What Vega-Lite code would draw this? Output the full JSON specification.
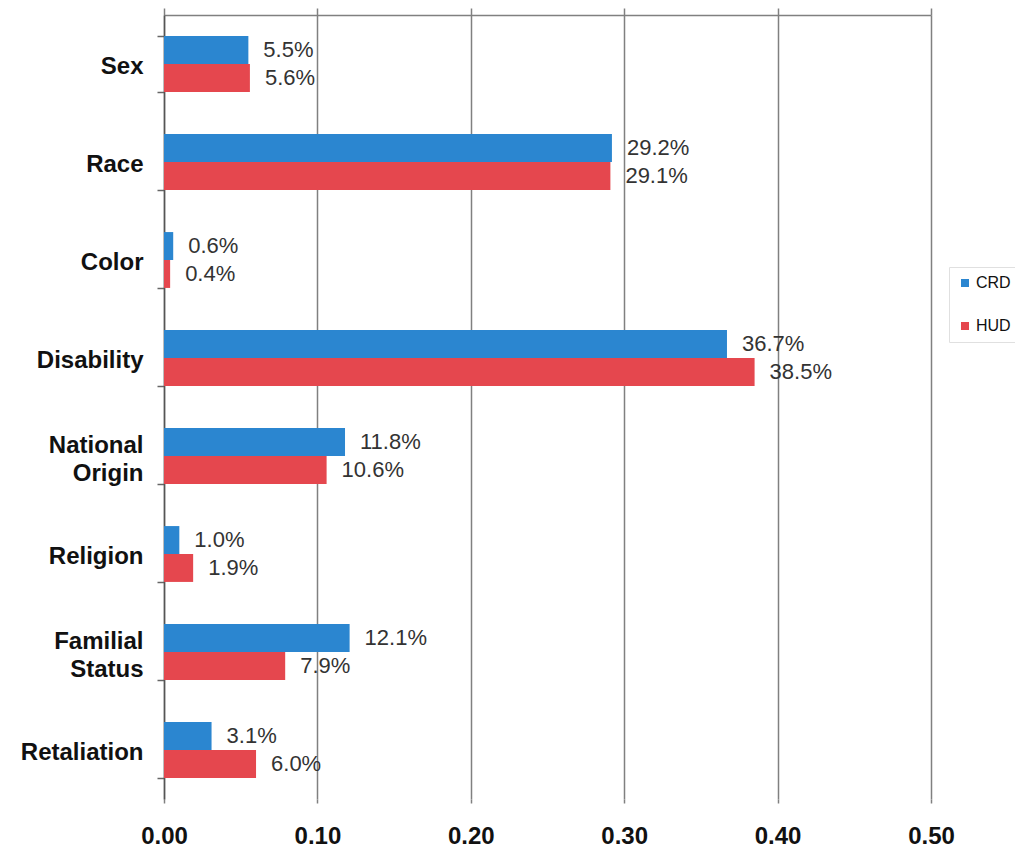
{
  "$schema": "https://vega.github.io/schema/vega-lite/v6.json",
  "autosize": {"type": "none"},
  "width": 767,
  "height": 784,
  "padding": {"left": 164, "top": 15, "right": 84, "bottom": 53},
  "background": "white",
  "data": {
    "values": [
      {"category": "Sex", "agency": "CRD", "share": 0.055},
      {"category": "Sex", "agency": "HUD", "share": 0.056},
      {"category": "Race", "agency": "CRD", "share": 0.292},
      {"category": "Race", "agency": "HUD", "share": 0.291},
      {"category": "Color", "agency": "CRD", "share": 0.006},
      {"category": "Color", "agency": "HUD", "share": 0.004},
      {"category": "Disability", "agency": "CRD", "share": 0.367},
      {"category": "Disability", "agency": "HUD", "share": 0.385},
      {"category": "National Origin", "agency": "CRD", "share": 0.118},
      {"category": "National Origin", "agency": "HUD", "share": 0.106},
      {"category": "Religion", "agency": "CRD", "share": 0.010},
      {"category": "Religion", "agency": "HUD", "share": 0.019},
      {"category": "Familial Status", "agency": "CRD", "share": 0.121},
      {"category": "Familial Status", "agency": "HUD", "share": 0.079},
      {"category": "Retaliation", "agency": "CRD", "share": 0.031},
      {"category": "Retaliation", "agency": "HUD", "share": 0.060}
    ]
  },
  "encoding": {
    "y": {
      "field": "category",
      "type": "nominal",
      "sort": ["Sex", "Race", "Color", "Disability", "National Origin", "Religion", "Familial Status", "Retaliation"],
      "scale": {"paddingInner": 0.43, "paddingOuter": 0.215},
      "axis": {
        "title": null,
        "tickBand": "extent",
        "tickSize": 7,
        "tickColor": "#666666",
        "tickWidth": 1.5,
        "domainColor": "#555555",
        "domainWidth": 1.5,
        "labelFont": "Liberation Sans",
        "labelFontWeight": "bold",
        "labelFontSize": 24,
        "labelColor": "#111111",
        "labelPadding": 14,
        "labelLineHeight": 28,
        "labelOffset": {"condition": {"test": "indexof(datum.label, ' ') > 0", "value": -11}, "value": 2},
        "labelExpr": "split(datum.label, ' ')"
      }
    },
    "yOffset": {"field": "agency", "type": "nominal", "sort": ["CRD", "HUD"]}
  },
  "layer": [
    {
      "mark": {"type": "bar", "opacity": 1},
      "encoding": {
        "x": {
          "field": "share",
          "type": "quantitative",
          "scale": {"domain": [0, 0.5], "nice": false},
          "axis": {
            "title": null,
            "orient": "bottom",
            "values": [0, 0.1, 0.2, 0.3, 0.4, 0.5],
            "format": ".2f",
            "domain": false,
            "grid": true,
            "gridColor": "#808080",
            "gridWidth": 1.5,
            "tickSize": 4,
            "tickColor": "#808080",
            "tickWidth": 1.5,
            "labelFlush": false,
            "labelFont": "Liberation Sans",
            "labelFontWeight": "bold",
            "labelFontSize": 24,
            "labelColor": "#111111",
            "labelPadding": 21
          }
        },
        "color": {
          "field": "agency",
          "type": "nominal",
          "scale": {"domain": ["CRD", "HUD"], "range": ["#2B86D0", "#E5474E"]},
          "legend": {
            "title": null,
            "orient": "none",
            "legendX": 785,
            "legendY": 252,
            "symbolType": "square",
            "symbolSize": 64,
            "labelFont": "Liberation Sans",
            "labelFontSize": 16,
            "labelColor": "#111111",
            "rowPadding": 27,
            "padding": 8,
            "strokeColor": "#e0e0e0",
            "labelOffset": 3
          }
        }
      }
    },
    {
      "mark": {"type": "text", "align": "left", "baseline": "middle", "dx": 15, "font": "Liberation Sans", "fontSize": 22, "color": "#333333"},
      "encoding": {
        "x": {
          "field": "share",
          "type": "quantitative",
          "scale": {"domain": [0, 0.5], "nice": false},
          "axis": {
            "title": null,
            "orient": "top",
            "values": [0, 0.1, 0.2, 0.3, 0.4, 0.5],
            "labels": false,
            "grid": false,
            "domain": true,
            "domainColor": "#808080",
            "domainWidth": 1.5,
            "tickSize": 7,
            "tickColor": "#808080",
            "tickWidth": 1.5
          }
        },
        "text": {"field": "share", "type": "quantitative", "format": ".1%"}
      }
    }
  ],
  "resolve": {"axis": {"x": "independent"}},
  "config": {"view": {"stroke": null}}
}
